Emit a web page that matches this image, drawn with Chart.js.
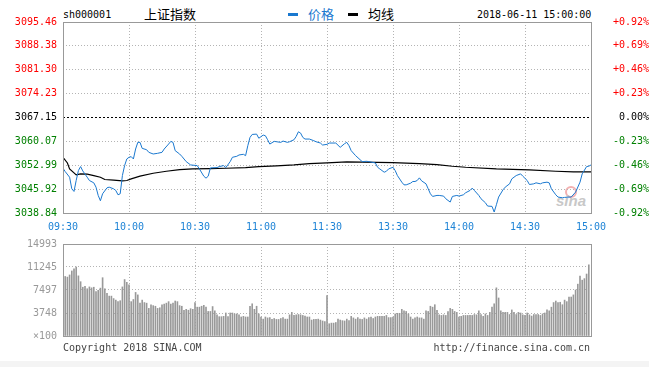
<!DOCTYPE html>
<html>
<head>
<meta charset="utf-8">
<script src="https://cdn.jsdelivr.net/npm/chart.js@4.4.0/dist/chart.umd.min.js"></script>
<style>
  html, body { margin: 0; padding: 0; background: #fff; }
  body { width: 649px; height: 367px; position: relative; overflow: hidden; font-family: "DejaVu Sans Mono", monospace; }
  .t { position: absolute; white-space: nowrap; font-size: 10px; line-height: 12px; }
  .cjk { font-family: "Noto Sans CJK SC", sans-serif; font-size: 13px; line-height: 16px; }
  .key { position: absolute; width: 10px; height: 3px; }
  canvas { position: absolute; left: 0; }
  #band { position: absolute; left: 0; top: 361px; width: 649px; height: 6px; background: #f4f4f4; }
  #sina { position: absolute; left: 556px; top: 192px; font: italic bold 15px "Liberation Sans", sans-serif; color: #c8c8c8; }
  #eye { position: absolute; left: 565px; top: 186px; width: 8px; height: 8px; border: 2px solid #f3b0b0; border-radius: 50%; }
</style>
</head>
<body>
<div class="t" style="left:63px;top:9px;color:#000">sh000001</div>
<div class="t cjk" style="left:144px;top:6px;color:#000">上证指数</div>
<div class="key" style="left:288px;top:13px;background:#1a78cf"></div>
<div class="t cjk" style="left:308px;top:6px;color:#1a78cf">价格</div>
<div class="key" style="left:348px;top:13px;background:#000"></div>
<div class="t cjk" style="left:368px;top:6px;color:#000">均线</div>
<div class="t" style="left:477px;top:9px;color:#000">2018-06-11 15:00:00</div>

<div id="eye"></div>
<div id="sina">sina</div>

<canvas id="priceChart" width="649" height="234" style="top:0"></canvas>
<canvas id="volChart" width="649" height="116" style="top:232px"></canvas>

<div class="t" style="left:63px;top:342px;color:#444">Copyright 2018 SINA.COM</div>
<div class="t" style="right:59px;top:342px;color:#444">http://finance.sina.com.cn</div>
<div id="band"></div>

<script>
const prevClose = 3067.15;

const priceTicks = [3038.84, 3045.92, 3052.99, 3060.07, 3067.15, 3074.23, 3081.30, 3088.38, 3095.46];
const volTicks = [0, 3748, 7497, 11245, 14993];

// minute index: 0 = 09:30, 120 = 11:30 / 13:00, 240 = 15:00
const timePos = [0, 30, 60, 90, 120, 150, 180, 210, 240];
const timeLabels = ['09:30', '10:00', '10:30', '11:00', '11:30', '13:30', '14:00', '14:30', '15:00'];

// price line (minute, value)
const priceMin = [
  0, 1, 3, 4, 5, 6, 7, 8, 9, 11, 12, 14, 15, 16, 17, 18, 20, 21, 23, 24,
  25, 26, 27, 28, 29, 30, 31, 32, 33, 34, 35, 36, 38, 39, 41, 43, 45, 46, 48, 49,
  50, 51, 53, 54, 56, 58, 61, 62, 64, 65, 66, 67, 70, 71, 73, 74, 76, 77, 79, 80,
  82, 83, 84, 85, 86, 88, 89, 91, 92, 93, 94, 96, 97, 99, 100, 102, 103, 105, 106, 107,
  108, 109, 110, 112, 114, 115, 117, 118, 120,
  121, 124, 126, 128, 129, 130, 131, 133, 135, 136, 138, 139, 142, 143, 144, 146, 147, 148, 150, 151,
  152, 154, 155, 156, 158, 159, 160, 161, 162, 163, 165, 166, 167, 168, 170, 171, 173, 174, 176, 177,
  179, 180, 182, 183, 185, 186, 187, 189, 190, 192, 193, 195, 196, 197, 198, 200, 201, 203, 204, 206,
  208, 209, 211, 212, 214, 215, 217, 218, 220, 221, 222, 224, 225, 227, 228, 230, 231, 233, 235, 236,
  238, 239, 240
];
const priceVal = [
  3052.11, 3051.12, 3049.45, 3046.01, 3045.23, 3048.50, 3051.42, 3052.60, 3051.30, 3049.45,
  3048.47, 3047.78, 3046.50, 3044.05, 3042.47, 3044.54, 3046.31, 3046.50, 3046.01, 3045.52,
  3044.24, 3044.54, 3049.94, 3052.89, 3054.86, 3055.35, 3055.55, 3054.86, 3057.81, 3059.78,
  3059.78, 3058.00, 3057.60, 3056.83, 3056.33, 3056.53, 3056.83, 3057.81, 3059.28, 3060.07,
  3059.78, 3057.32, 3056.33, 3055.65, 3054.07, 3053.09, 3052.89, 3051.91, 3049.75, 3049.16,
  3049.75, 3052.21, 3052.30, 3052.60, 3052.89, 3052.30, 3054.07, 3055.35, 3055.65, 3056.04,
  3056.24, 3055.84, 3058.79, 3061.25, 3062.13, 3062.23, 3061.00, 3061.94, 3061.74, 3060.56,
  3059.28, 3060.07, 3059.97, 3059.78, 3060.17, 3059.78, 3059.97, 3060.56, 3061.54, 3062.92,
  3062.53, 3061.25, 3060.76, 3060.76, 3060.27, 3059.97, 3059.58, 3058.99, 3059.19,
  3059.58, 3059.58, 3058.30, 3059.40, 3059.78, 3058.79, 3057.32, 3055.84, 3054.66, 3054.07,
  3054.17, 3054.07, 3053.68, 3052.40, 3051.91, 3050.93, 3051.22, 3051.91, 3052.40, 3051.42,
  3049.94, 3047.98, 3047.19, 3047.19, 3047.68, 3048.18, 3048.18, 3048.47, 3049.26, 3048.37,
  3047.49, 3046.01, 3044.54, 3043.75, 3044.05, 3044.05, 3043.85, 3043.06, 3042.08, 3043.75,
  3044.05, 3043.85, 3044.24, 3044.83, 3045.52, 3046.21, 3045.52, 3044.05, 3043.06, 3041.88,
  3040.90, 3040.80, 3039.13, 3041.29, 3043.56, 3045.72, 3046.50, 3047.49, 3048.96, 3049.94,
  3050.44, 3049.75, 3048.47, 3047.29, 3047.49, 3047.78, 3047.49, 3047.78, 3047.98, 3047.78,
  3046.01, 3044.24, 3043.56, 3043.36, 3043.46, 3043.56, 3043.56, 3045.03, 3047.98, 3050.44,
  3052.60, 3052.70, 3053.09
];

// average price line (minute, value)
const avgMin = [0, 2, 3, 5, 6, 8, 11, 14, 17, 19, 23, 27, 29, 31, 35, 41, 47, 53, 59, 67,
  74, 83, 89, 97, 105, 112, 120, 129, 150, 162, 170, 177, 183, 197, 212, 224, 232, 240];
const avgVal = [3055.35, 3053.68, 3051.91, 3050.73, 3050.14, 3050.44, 3050.34, 3049.94, 3049.45, 3048.77,
  3048.57, 3048.37, 3048.47, 3048.96, 3049.75, 3050.63, 3051.22, 3051.71, 3051.91, 3052.01,
  3052.11, 3052.30, 3052.60, 3052.80, 3053.09, 3053.48, 3053.68, 3053.98, 3053.78, 3053.48,
  3053.19, 3052.70, 3052.40, 3051.91, 3051.62, 3051.22, 3051.03, 3051.03];

// volume per minute (x100), index 0..240
const volume = [
  null,
  9700, 9600, 9950, 10600, 10950, 11250, 9800, 8850, 7950, 8100,
  7700, 8000, 7850, 7950, 7250, 7450, 7800, 9500, 7700, 6950,
  6500, 6500, 6100, 5850, 5600, 5750, 8000, 9200, 8750, 8350,
  5600, 5950, 7100, 6700, 5350, 5850, 5450, 5350, 4500, 5100,
  4950, 4850, 4500, 4600, 5100, 5200, 5350, 5600, 5200, 5350,
  5700, 5600, 4950, 4850, 4200, 4350, 4200, 4450, 4350, 5450,
  4700, 4700, 4850, 5000, 4700, 4000, 4000, 4800, 4100, 3450,
  3150, 3150, 3200, 3750, 3150, 3750, 3750, 3600, 3600, 3450,
  3100, 3200, 3100, 3100, 4850, 5250, 4350, 4850, 3600, 3100,
  2750, 3100, 2950, 3000, 2700, 2850, 2700, 2700, 2850, 3000,
  2750, 2750, 3450, 3850, 3350, 3450, 3500, 3450, 3350, 3250,
  3100, 3100, 2600, 2700, 2700, 2750, 2600, 2450, 2350, 6600,
  2000, 2100, 2100, 2200, 2750, 2600, 2500, 2450, 2750, 2500,
  3200, 2950, 2750, 3000, 2750, 2700, 2950, 2750, 3000, 3100,
  2850, 3100, 3200, 3200, 3200, 3200, 3350, 3000, 3000, 3100,
  3600, 3700, 3700, 4350, 4100, 4000, 3600, 3100, 2750, 2950,
  3100, 2950, 2950, 2750, 4100, 4000, 4850, 4700, 5100, 4200,
  3450, 3350, 3450, 3350, 4000, 4500, 4350, 4000, 3850, 3100,
  3200, 3350, 3350, 3350, 3350, 3350, 3500, 3450, 4100, 3500,
  3200, 3600, 3350, 3850, 4700, 5250, 7850, 6200, 4100, 3850,
  3850, 3850, 3500, 4250, 3850, 3500, 3850, 3750, 3450, 3350,
  3750, 3450, 3250, 3500, 3500, 3500, 3350, 3600, 3750, 4250,
  4100, 4700, 5450, 5700, 5450, 5500, 5100, 5850, 5600, 6350,
  6350, 6700, 7500, 8450, 9750, 9100, 9350, 10100, 11600,
  null
];

const blue = '#1a78cf';
const gridColor = '#b4b4b4';

Chart.defaults.font.family = '"DejaVu Sans Mono", monospace';
Chart.defaults.font.size = 10;

function tickColor(ctx) {
  const v = ctx.tick.value;
  if (Math.abs(v - prevClose) < 0.005) return '#000';
  return v > prevClose ? '#ff0000' : '#008000';
}

function pctLabel(v) {
  const p = (v - prevClose) / prevClose * 100;
  if (Math.abs(p) < 0.005) return '0.00%';
  return (p > 0 ? '+' : '') + p.toFixed(2) + '%';
}

// grey box round the plot area
const framePlugin = {
  id: 'frame',
  afterDraw(chart) {
    const a = chart.chartArea;
    const c = chart.ctx;
    c.save();
    c.strokeStyle = '#999';
    c.lineWidth = 1;
    c.strokeRect(Math.round(a.left) + 0.5, Math.round(a.top) + 0.5,
      Math.round(a.right - a.left), Math.round(a.bottom - a.top));
    c.restore();
  }
};

const timeAxis = {
  type: 'linear',
  min: timePos[0],
  max: timePos[timePos.length - 1],
  offset: false,
  afterBuildTicks(axis) { axis.ticks = timePos.map(v => ({ value: v })); },
  grid: { color: gridColor, drawTicks: false, offset: false },
  border: { display: false, dash: [1, 2] }
};

new Chart(document.getElementById('priceChart'), {
  type: 'line',
  data: {
    datasets: [{
      label: '价格',
      data: priceMin.map((m, k) => ({ x: m, y: priceVal[k] })),
      borderColor: blue,
      borderWidth: 1,
      pointRadius: 0,
      tension: 0,
      order: 0
    }, {
      label: '均线',
      data: avgMin.map((m, k) => ({ x: m, y: avgVal[k] })),
      borderColor: '#000',
      borderWidth: 1.2,
      pointRadius: 0,
      tension: 0,
      order: 1
    }, {
      label: 'prev close',
      data: [{ x: timePos[0], y: prevClose }, { x: timePos[timePos.length - 1], y: prevClose }],
      borderColor: '#000',
      borderWidth: 1,
      borderDash: [2, 2],
      pointRadius: 0,
      order: 2
    }]
  },
  options: {
    responsive: false,
    maintainAspectRatio: false,
    animation: false,
    devicePixelRatio: 1,
    layout: { padding: { top: 22, left: 0, right: 0, bottom: 0 } },
    plugins: { legend: { display: false }, tooltip: { enabled: false } },
    scales: {
      x: Object.assign({}, timeAxis, {
        afterFit(s) { s.height = 21; },
        ticks: {
          autoSkip: false,
          maxRotation: 0,
          padding: 8,
          color: '#1f84d6',
          callback: v => timeLabels[timePos.indexOf(v)]
        }
      }),
      y: {
        type: 'linear',
        position: 'left',
        min: priceTicks[0],
        max: priceTicks[priceTicks.length - 1],
        afterBuildTicks(axis) { axis.ticks = priceTicks.map(v => ({ value: v })); },
        afterFit(s) { s.width = 63; },
        ticks: { padding: 6, color: tickColor, callback: v => v.toFixed(2) },
        grid: {
          drawTicks: false,
          color: ctx => (Math.abs(ctx.tick.value - prevClose) < 0.005 ? 'rgba(0,0,0,0)' : gridColor)
        },
        border: { display: false, dash: [1, 2] }
      },
      y2: {
        type: 'linear',
        position: 'right',
        min: priceTicks[0],
        max: priceTicks[priceTicks.length - 1],
        afterBuildTicks(axis) { axis.ticks = priceTicks.map(v => ({ value: v })); },
        afterFit(s) { s.width = 58; },
        ticks: { padding: 5, crossAlign: 'far', color: tickColor, callback: v => pctLabel(v) },
        grid: { drawOnChartArea: false, drawTicks: false },
        border: { display: false }
      }
    }
  },
  plugins: [framePlugin]
});

new Chart(document.getElementById('volChart'), {
  type: 'bar',
  data: {
    datasets: [{
      label: 'volume',
      data: volume.map((v, i) => ({ x: i, y: v })),
      backgroundColor: '#999',
      barThickness: 1
    }]
  },
  options: {
    responsive: false,
    maintainAspectRatio: false,
    animation: false,
    devicePixelRatio: 1,
    layout: { padding: { top: 10, left: 0, right: 58, bottom: 6 } },
    plugins: { legend: { display: false }, tooltip: { enabled: false } },
    scales: {
      x: Object.assign({}, timeAxis, {
        afterFit(s) { s.height = 0; },
        ticks: { display: false }
      }),
      y: {
        type: 'linear',
        min: volTicks[0],
        max: volTicks[volTicks.length - 1],
        z: 1,
        afterBuildTicks(axis) { axis.ticks = volTicks.map(v => ({ value: v })); },
        afterFit(s) { s.width = 63; },
        ticks: { padding: 6, color: '#999', callback: v => (v === 0 ? '×100' : String(v)) },
        grid: { color: gridColor, drawTicks: false },
        border: { display: false, dash: [1, 2] }
      }
    }
  },
  plugins: [framePlugin]
});
</script>
</body>
</html>
